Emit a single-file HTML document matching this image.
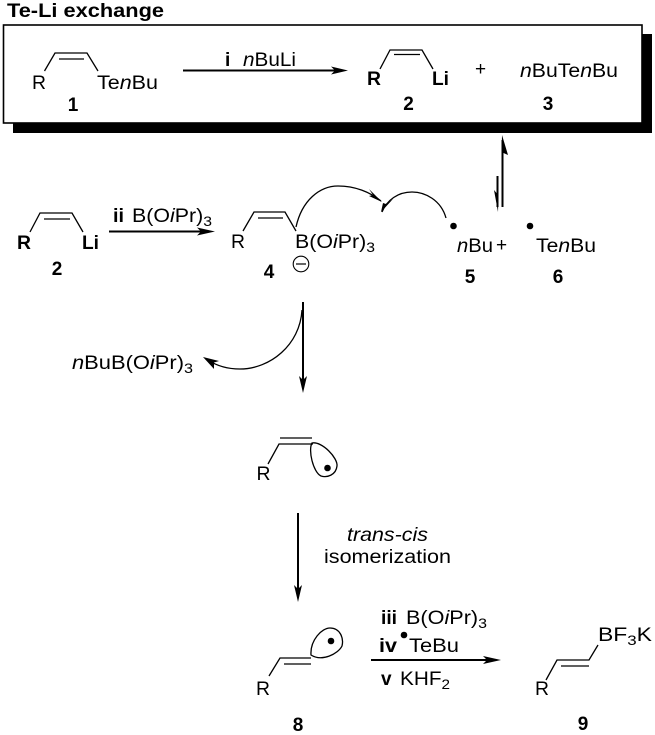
<!DOCTYPE html>
<html><head><meta charset="utf-8"><style>
html,body{margin:0;padding:0;background:#fff;width:655px;height:735px;overflow:hidden}
svg{display:block}
text{font-family:"Liberation Sans",sans-serif;font-size:19px;fill:#000}
.b{font-weight:bold}
.i{font-style:italic}
.s{font-size:14px}
.l{fill:none;stroke:#000;stroke-width:1.3}
.a{fill:none;stroke:#000;stroke-width:2}
</style></head><body>
<svg width="655" height="735" viewBox="0 0 655 735" xmlns="http://www.w3.org/2000/svg">
<!-- box -->
<rect x="13" y="34" width="639" height="99" fill="#000"/>
<rect x="3.5" y="25" width="638.5" height="98" fill="#fff" stroke="#000" stroke-width="1.6"/>
<text class="b" x="7" y="17" textLength="157" lengthAdjust="spacingAndGlyphs">Te-Li exchange</text>

<!-- 1 -->
<path class="l" d="M44.5,71 L55,53 H87 L98,71 M59,59 H84"/>
<text x="32" y="89" textLength="14" lengthAdjust="spacingAndGlyphs">R</text>
<text x="97" y="89" textLength="61" lengthAdjust="spacingAndGlyphs">Te<tspan class="i">n</tspan>Bu</text>
<text class="b" x="73" y="111" text-anchor="middle">1</text>
<path class="a" d="M183,70.5 H340"/><path d="M348,70.5 L331,66.5 L335,70.5 L331,74.5Z"/>
<text class="b" x="225" y="66">i</text>
<text x="243" y="66" textLength="53" lengthAdjust="spacingAndGlyphs"><tspan class="i">n</tspan>BuLi</text>

<!-- 2 box -->
<path class="l" d="M380,69 L390,50 H422 L433,69 M394,54.5 H420"/>
<text class="b" x="367" y="85" textLength="14" lengthAdjust="spacingAndGlyphs">R</text>
<text class="b" x="432" y="85" textLength="17" lengthAdjust="spacingAndGlyphs">Li</text>
<text class="b" x="408.500" y="110" text-anchor="middle">2</text>
<text x="475" y="75">+</text>
<text x="520" y="77" textLength="98" lengthAdjust="spacingAndGlyphs"><tspan class="i">n</tspan>BuTe<tspan class="i">n</tspan>Bu</text>
<text class="b" x="548" y="110" text-anchor="middle">3</text>

<!-- equilibrium -->
<path class="a" d="M502.500,140 V207"/><path d="M502,135 L508,155 L503.500,153 L503.500,160 L501.500,160Z"/>
<path class="a" d="M497.500,176 V207"/><path d="M498,212 L494,190 L496.500,193 L498.500,193Z"/>

<!-- 2 row -->
<path class="l" d="M30,232 L40,213 H72 L83,232 M44,219 H70"/>
<text class="b" x="17" y="249" textLength="14" lengthAdjust="spacingAndGlyphs">R</text>
<text class="b" x="82" y="249" textLength="17" lengthAdjust="spacingAndGlyphs">Li</text>
<text class="b" x="57" y="275" text-anchor="middle">2</text>
<path class="a" d="M109,231.500 H208"/><path d="M215,231.500 L197,227.500 L201,231.500 L197,235.500Z"/>
<text class="b" x="113" y="222" textLength="11" lengthAdjust="spacingAndGlyphs">ii</text>
<text x="132" y="222" textLength="80" lengthAdjust="spacingAndGlyphs">B(O<tspan class="i">i</tspan>Pr)<tspan class="s" dy="4">3</tspan></text>

<!-- 4 -->
<path class="l" d="M243,231 L254,212 H285 L296,231 M258,218 H283"/>
<text x="231" y="248" textLength="14" lengthAdjust="spacingAndGlyphs">R</text>
<text x="295" y="248" textLength="80" lengthAdjust="spacingAndGlyphs">B(O<tspan class="i">i</tspan>Pr)<tspan class="s" dy="4">3</tspan></text>
<circle cx="301" cy="264" r="7.800" fill="none" stroke="#000" stroke-width="1.1"/>
<path d="M296,264 H306" stroke="#000" stroke-width="1.2"/>
<text class="b" x="269" y="278" text-anchor="middle">4</text>

<!-- curved arrows -->
<path class="l" d="M296,227 C302,200 320,186 338,186 C355,186 370,192 381,201"/>
<path d="M382,202 L369,189 L373,195 L369,196Z"/>
<path class="l" d="M446,218 C441,200 425,192 412,192 C398,192 387,200 382,212"/>
<path d="M381,212 L383,203 L386,204 L393,199Z"/>
<circle cx="453.500" cy="226" r="3.300"/>
<circle cx="530" cy="226" r="3.300"/>
<text x="457" y="252" textLength="36" lengthAdjust="spacingAndGlyphs"><tspan class="i">n</tspan>Bu</text>
<text x="496" y="251">+</text>
<text x="536" y="252" textLength="60" lengthAdjust="spacingAndGlyphs">Te<tspan class="i">n</tspan>Bu</text>
<text class="b" x="470" y="283" text-anchor="middle">5</text>
<text class="b" x="558" y="283" text-anchor="middle">6</text>

<!-- down arrow with loss -->
<path class="a" d="M303,302 V386"/><path d="M303,393 L299,376 L303,380 L307,376Z"/>
<path class="l" d="M302,310 C300,345 270,369 240,369 C228,369 217,366 208,360"/>
<path d="M203,357 L219,361 L214,362.500 L214,369Z"/>
<text x="72" y="369" textLength="121" lengthAdjust="spacingAndGlyphs"><tspan class="i">n</tspan>BuB(O<tspan class="i">i</tspan>Pr)<tspan class="s" dy="4">3</tspan></text>

<!-- radical -->
<path class="l" d="M268,464 L279,444 H313 M280,438 H312"/>
<text x="256.500" y="480" textLength="14" lengthAdjust="spacingAndGlyphs">R</text>
<path class="l" d="M312,443 C322,441 338,458 337,466 C336,475 327,478 321,476 C313,472 308,450 312,443Z"/>
<circle cx="327.500" cy="468" r="3.300"/>

<!-- arrow 3 -->
<path class="a" d="M298,513 V595"/><path d="M298,602 L294,585 L298,589 L302,585Z"/>
<text class="i" x="347" y="541" textLength="81" lengthAdjust="spacingAndGlyphs">trans-cis</text>
<text x="324" y="563" textLength="127" lengthAdjust="spacingAndGlyphs">isomerization</text>

<!-- 8 -->
<path class="l" d="M269,676 L280,658 H311 M284,664 H311"/>
<text x="256" y="695" textLength="14" lengthAdjust="spacingAndGlyphs">R</text>
<path class="l" d="M311,655 C310,640 322,628 330,628 C340,628 344,638 342,646 C338,654 322,662 311,655Z"/>
<circle cx="331" cy="641" r="3.300"/>
<text class="b" x="298" y="731" text-anchor="middle">8</text>

<!-- arrow 4 -->
<path class="a" d="M371,660 H494"/><path d="M501,660 L483,656 L487,660 L483,664Z"/>
<text class="b" x="381" y="624" textLength="16" lengthAdjust="spacingAndGlyphs">iii</text>
<text x="406" y="624" textLength="81" lengthAdjust="spacingAndGlyphs">B(O<tspan class="i">i</tspan>Pr)<tspan class="s" dy="4">3</tspan></text>
<text class="b" x="379" y="652" textLength="18" lengthAdjust="spacingAndGlyphs">iv</text>
<circle cx="404" cy="635" r="3.300"/>
<text x="409" y="652" textLength="50" lengthAdjust="spacingAndGlyphs">TeBu</text>
<text class="b" x="381" y="685">v</text>
<text x="400" y="685" textLength="50" lengthAdjust="spacingAndGlyphs">KHF<tspan class="s" dy="4">2</tspan></text>

<!-- 9 -->
<path class="l" d="M546,680 L557,660 H589 L598,645 M561,666 H589"/>
<text x="535" y="695" textLength="14" lengthAdjust="spacingAndGlyphs">R</text>
<text x="598" y="641" textLength="54" lengthAdjust="spacingAndGlyphs">BF<tspan class="s" dy="4">3</tspan><tspan dy="-4">K</tspan></text>
<text class="b" x="583" y="730" text-anchor="middle">9</text>
</svg>
</body></html>
